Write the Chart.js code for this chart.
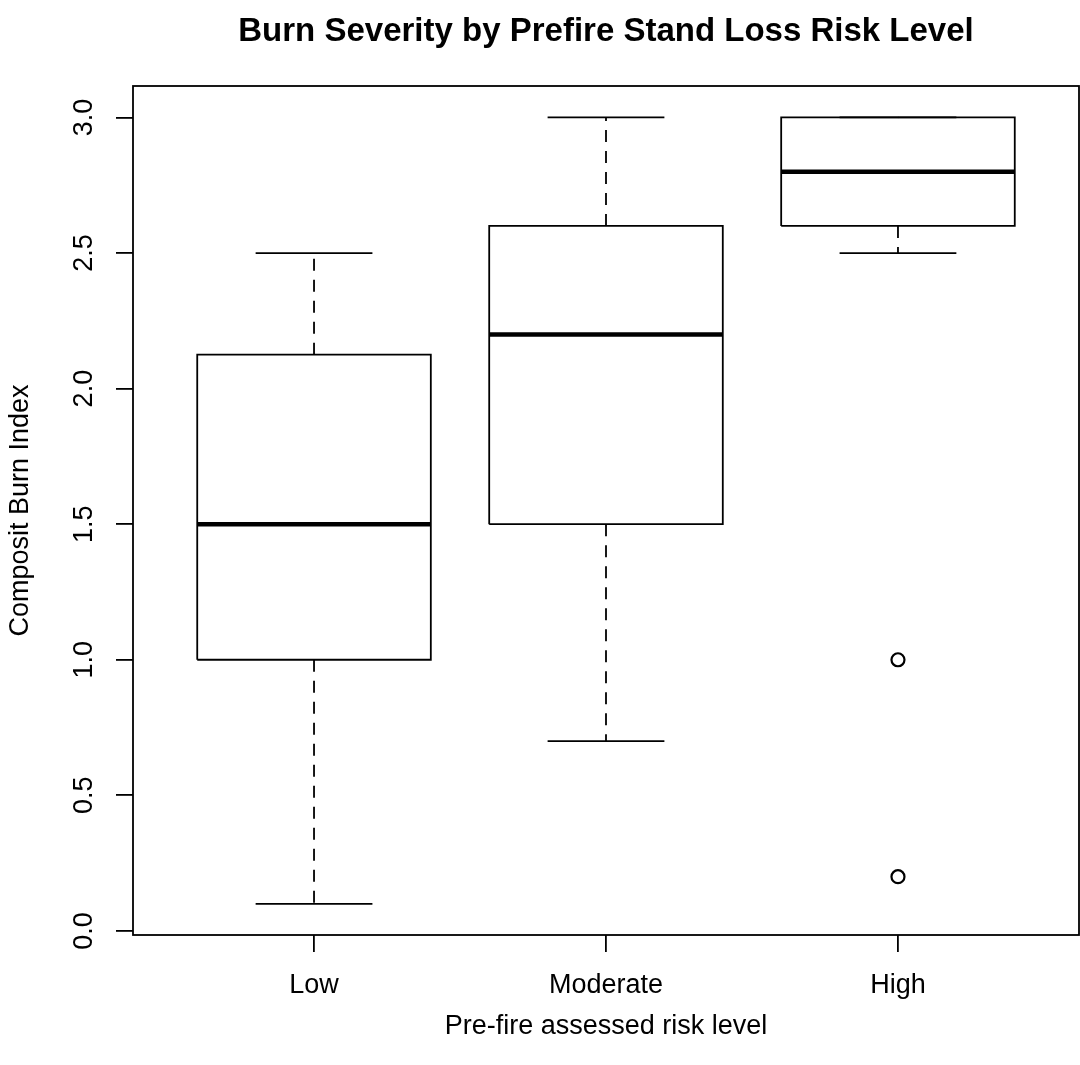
<!DOCTYPE html>
<html>
<head>
<meta charset="utf-8">
<title>Burn Severity by Prefire Stand Loss Risk Level</title>
<script src="https://cdn.jsdelivr.net/npm/chart.js@4.4.1/dist/chart.umd.min.js"></script>
<style>
  html, body { margin: 0; padding: 0; background: #fff; }
  #chart { display: block; }
</style>
</head>
<body>
<canvas id="chart" width="1080" height="1065"></canvas>
<script>
// DATA
const riskLevels = ['Low', 'Moderate', 'High'];
const whiskerLow = [0.1, 0.7, 2.5];
const lowerQuartile = [1.0, 1.5, 2.6];
const medians = [1.5, 2.2, 2.8];
const upperQuartile = [2.125, 2.6, 3.0];
const whiskerHigh = [2.5, 3.0, 3.0];
const outlierGroups = [3, 3];
const outlierValues = [1.0, 0.2];
const yTickValues = [0, 0.5, 1, 1.5, 2, 2.5, 3];

// STYLE
const FONT = "'Liberation Sans', Arial, Helvetica, sans-serif";
const BOX_HALF = 0.4;
const CAP_HALF = 0.2;
const INK = '#000';
const LW = 1.8;

function segment(x1, y1, x2, y2) {
	return [{x: x1, y: y1}, {x: x2, y: y2}];
}

function lineSet(data, width, dash) {
	return {
		data: data,
		showLine: true,
		borderColor: INK,
		borderWidth: width,
		borderDash: dash || [],
		borderCapStyle: 'butt',
		borderJoinStyle: 'miter',
		pointRadius: 0,
		fill: false,
		tension: 0
	};
}

// BUILD DATASETS FROM THE ARRAYS
let datasets = [];
riskLevels.forEach((name, i) => {
	const x = i + 1;
	// whiskers (dashed)
	datasets.push(lineSet(segment(x, lowerQuartile[i], x, whiskerLow[i]), LW, [12, 9]));
	datasets.push(lineSet(segment(x, upperQuartile[i], x, whiskerHigh[i]), LW, [12, 9]));
	// staples
	datasets.push(lineSet(segment(x - CAP_HALF, whiskerLow[i], x + CAP_HALF, whiskerLow[i]), LW));
	datasets.push(lineSet(segment(x - CAP_HALF, whiskerHigh[i], x + CAP_HALF, whiskerHigh[i]), LW));
	// box
	datasets.push(lineSet([
		{x: x - BOX_HALF, y: lowerQuartile[i]},
		{x: x + BOX_HALF, y: lowerQuartile[i]},
		{x: x + BOX_HALF, y: upperQuartile[i]},
		{x: x - BOX_HALF, y: upperQuartile[i]},
		{x: x - BOX_HALF, y: lowerQuartile[i]}
	], LW));
	// median
	datasets.push(lineSet(segment(x - BOX_HALF, medians[i], x + BOX_HALF, medians[i]), 4.5));
});

datasets.push({
	data: outlierGroups.map((g, k) => ({x: g, y: outlierValues[k]})),
	showLine: false,
	pointStyle: 'circle',
	pointRadius: 6.5,
	pointBorderWidth: 2.2,
	pointBorderColor: INK,
	pointBackgroundColor: '#fff'
});

// FRAME AROUND THE PLOT REGION
const frameBox = {
	id: 'frameBox',
	afterDraw(chart) {
		const a = chart.chartArea;
		const c = chart.ctx;
		c.save();
		c.strokeStyle = INK;
		c.lineWidth = LW;
		c.strokeRect(a.left, a.top, a.right - a.left, a.bottom - a.top);
		c.restore();
	}
};

const ctx = document.getElementById('chart').getContext('2d');

new Chart(ctx, {
	type: 'scatter',
	data: { datasets: datasets },
	plugins: [frameBox],
	options: {
		responsive: false,
		animation: false,
		devicePixelRatio: 1,
		layout: { autoPadding: false, padding: { left: 0, right: 1, top: 0, bottom: 0 } },
		plugins: {
			legend: { display: false },
			tooltip: { enabled: false },
			title: { display: false }
		},
		scales: {
			// top axis only carries the main title, centred over the plot region
			top: {
				type: 'linear',
				position: 'top',
				min: 0.38,
				max: 3.62,
				afterFit: scale => { scale.height = 86; scale.paddingLeft = 0; scale.paddingRight = 0; },
				border: { display: false },
				grid: { display: false },
				ticks: { display: false },
				title: {
					display: true,
					text: 'Burn Severity by Prefire Stand Loss Risk Level',
					color: INK,
					font: { family: FONT, size: 33, weight: 'bold' },
					padding: { top: 12.5, bottom: 0 }
				}
			},
			x: {
				type: 'linear',
				position: 'bottom',
				min: 0.38,
				max: 3.62,
				afterBuildTicks: scale => { scale.ticks = riskLevels.map((n, i) => ({value: i + 1})); },
				afterFit: scale => { scale.height = 130; scale.paddingLeft = 0; scale.paddingRight = 0; },
				border: { display: false },
				grid: { drawOnChartArea: false, drawTicks: true, tickLength: 17, color: INK, lineWidth: LW },
				ticks: {
					color: INK,
					font: { family: FONT, size: 27 },
					padding: 17,
					maxRotation: 0,
					autoSkip: false,
					callback: value => riskLevels[Math.round(value) - 1]
				},
				title: {
					display: true,
					text: 'Pre-fire assessed risk level',
					color: INK,
					font: { family: FONT, size: 27 },
					padding: { top: 6.6, bottom: 22 }
				}
			},
			y: {
				type: 'linear',
				min: -0.015,
				max: 3.116,
				afterBuildTicks: scale => { scale.ticks = yTickValues.map(v => ({value: v})); },
				afterFit: scale => { scale.width = 133; scale.paddingTop = 0; scale.paddingBottom = 0; },
				border: { display: false },
				grid: { drawOnChartArea: false, drawTicks: true, tickLength: 17, color: INK, lineWidth: LW },
				ticks: {
					color: INK,
					font: { family: FONT, size: 27 },
					padding: 13,
					minRotation: 90,
					maxRotation: 90,
					crossAlign: 'center',
					autoSkip: false,
					callback: value => value.toFixed(1)
				},
				title: {
					display: true,
					text: 'Composit Burn Index',
					color: INK,
					font: { family: FONT, size: 27 },
					padding: { top: 4, bottom: 0 }
				}
			}
		}
	}
});
</script>
</body>
</html>
